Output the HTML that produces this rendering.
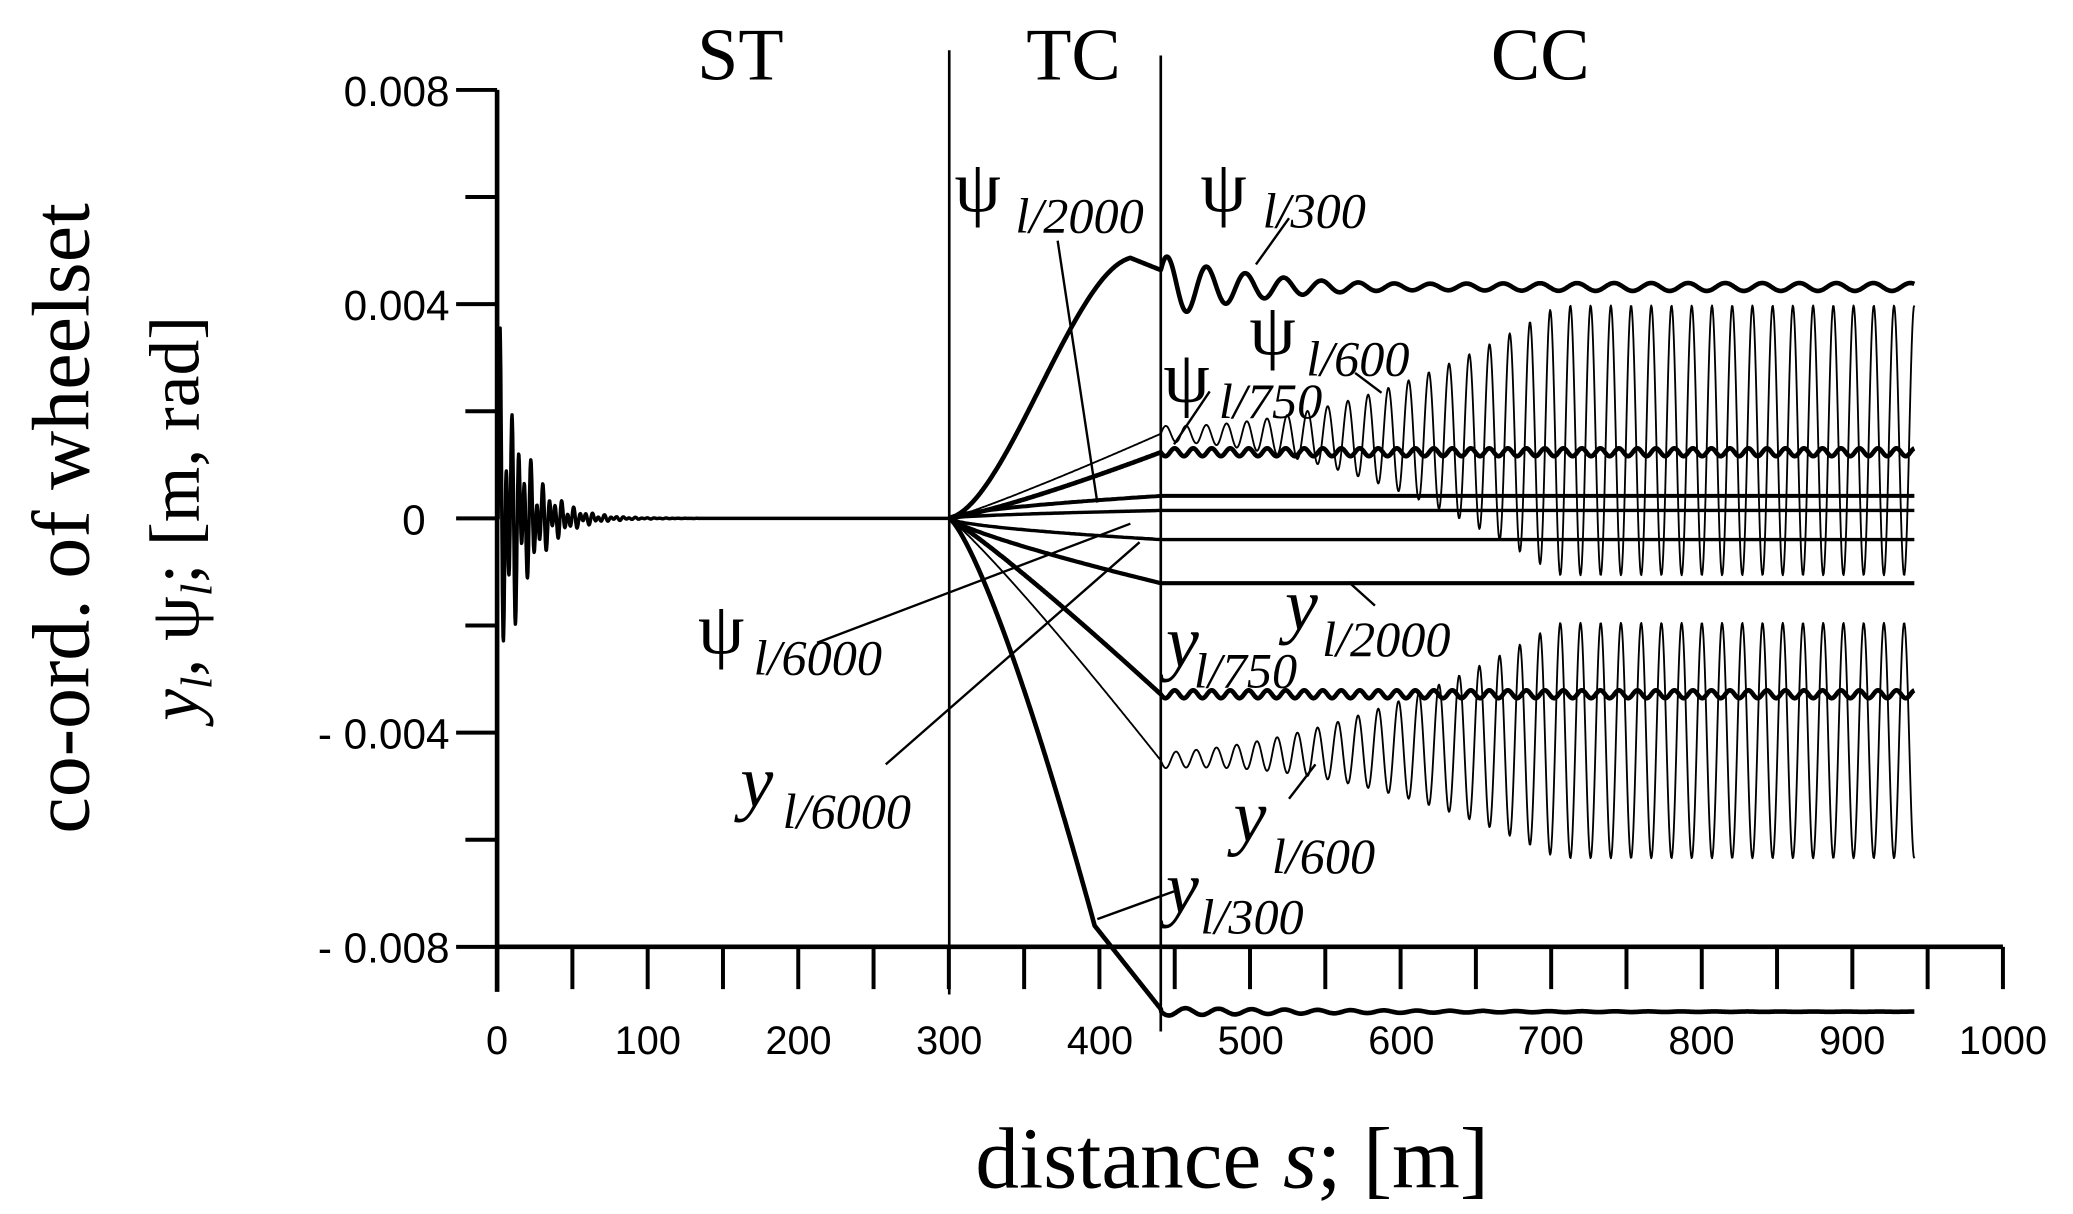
<!DOCTYPE html>
<html><head><meta charset="utf-8"><style>
html,body{margin:0;padding:0;background:#fff;}
svg{display:block;}
.t{font-family:"Liberation Serif",serif;}
.s{font-family:"Liberation Sans",sans-serif;}
</style></head><body>
<svg id="c" width="2073" height="1214" viewBox="0 0 1568 918" preserveAspectRatio="none" xmlns="http://www.w3.org/2000/svg">
<g stroke="#000" fill="none">
<line x1="376" y1="68" x2="376" y2="750" stroke-width="3.5"/>
<line x1="376" y1="716" x2="1515" y2="716" stroke-width="3.5"/>
<line x1="718" y1="38" x2="718" y2="752" stroke-width="2"/>
<line x1="878" y1="42" x2="878" y2="780" stroke-width="2"/>
<g id="ticks" stroke-width="3"></g>
<g id="curves"></g>
<g stroke-width="1.8">
<line x1="830" y1="380" x2="800" y2="182"/>
<line x1="915" y1="296" x2="888" y2="336"/>
<line x1="950" y1="200" x2="975" y2="165"/>
<line x1="1045" y1="297" x2="1025" y2="282"/>
<line x1="618" y1="486" x2="855" y2="396"/>
<line x1="670" y1="578" x2="862" y2="410"/>
<line x1="1020" y1="440" x2="1040" y2="458"/>
<line x1="975" y1="604" x2="995" y2="578"/>
<line x1="830" y1="695" x2="888" y2="674"/>
</g>
</g>
<g class="s" font-size="32" text-anchor="end" fill="#000">
<text x="340" y="80">0.008</text>
<text x="340" y="242">0.004</text>
<text x="322" y="404">0</text>
<text x="340" y="566">- 0.004</text>
<text x="340" y="728">- 0.008</text>
</g>
<g class="s" font-size="30" text-anchor="middle" fill="#000">
<text x="376" y="797">0</text><text x="490" y="797">100</text><text x="604" y="797">200</text>
<text x="718" y="797">300</text><text x="832" y="797">400</text><text x="946" y="797">500</text>
<text x="1060" y="797">600</text><text x="1173" y="797">700</text><text x="1287" y="797">800</text>
<text x="1401" y="797">900</text><text x="1515" y="797">1000</text>
</g>
<g class="t" fill="#000">
<text x="560" y="60" font-size="56" text-anchor="middle">ST</text>
<text x="812" y="60" font-size="56" text-anchor="middle">TC</text>
<text x="1165" y="60" font-size="56" text-anchor="middle">CC</text>
<text x="932" y="898" font-size="66" text-anchor="middle">distance <tspan font-style="italic">s</tspan>; [m]</text>
<text transform="translate(67,392) rotate(-90)" font-size="62" text-anchor="middle">co-ord. of wheelset</text>
<text transform="translate(150,392) rotate(-90)" font-size="54" text-anchor="middle"><tspan font-style="italic">y</tspan><tspan font-style="italic" font-size="34" dy="10">l</tspan><tspan dy="-10">, ψ</tspan><tspan font-style="italic" font-size="34" dy="10">l</tspan><tspan dy="-10">; [m, rad]</tspan></text>
<text x="722" y="160" font-size="56">ψ</text><text x="768" y="176" font-size="38" font-style="italic">l/2000</text>
<text x="908" y="160" font-size="56">ψ</text><text x="955" y="172" font-size="38" font-style="italic">l/300</text>
<text x="945" y="268" font-size="56">ψ</text><text x="988" y="284" font-size="38" font-style="italic">l/600</text>
<text x="880" y="304" font-size="56">ψ</text><text x="922" y="316" font-size="38" font-style="italic">l/750</text>
<text x="528" y="494" font-size="56">ψ</text><text x="570" y="510" font-size="38" font-style="italic">l/6000</text>
<text x="972" y="476" font-size="56" font-style="italic">y</text><text x="1000" y="496" font-size="38" font-style="italic">l/2000</text>
<text x="882" y="504" font-size="56" font-style="italic">y</text><text x="903" y="520" font-size="38" font-style="italic">l/750</text>
<text x="560" y="610" font-size="56" font-style="italic">y</text><text x="592" y="626" font-size="38" font-style="italic">l/6000</text>
<text x="933" y="636" font-size="56" font-style="italic">y</text><text x="962" y="660" font-size="38" font-style="italic">l/600</text>
<text x="882" y="690" font-size="56" font-style="italic">y</text><text x="908" y="706" font-size="38" font-style="italic">l/300</text>
</g>
</svg>
<script>
(function(){
var NS="http://www.w3.org/2000/svg";
var tk=document.getElementById('ticks'),cv=document.getElementById('curves');
function el(n,a,p){var e=document.createElementNS(NS,n);for(var k in a)e.setAttribute(k,a[k]);p.appendChild(e);}
[68,149,230,311,392,473,554,635,716].forEach(function(y,i){el('line',{x1:(i%2?352:345),y1:y,x2:376,y2:y},tk);});
for(var m=0;m<=1000;m+=50){var x=376+m*1.139;el('line',{x1:x,y1:716,x2:x,y2:748},tk);}
function path(f,x0,x1,w,st){var d='';for(var x=x0;x<=x1;x+=st||0.5){d+=(d?'L':'M')+x.toFixed(1)+' '+f(x).toFixed(1);}el('path',{d:d,'stroke-width':w,'stroke-linejoin':'round'},cv);}
// early damped oscillation
path(function(x){if(x<377)return 392;var t=x-377;return 392+(-140)*Math.exp(-t/20)*(Math.sin(t*1.35)*0.7+Math.sin(t*0.8+0.5)*0.4);},376,718,2.6,0.25);
function tc(target,p){return function(x){var u=(x-718)/160;return 392+(target-392)*Math.pow(u,p);};}
// psi300
path(function(x){if(x<=878){var u=(x-718)/137;if(x<855)return 392-197*(0.5-0.5*Math.cos(Math.PI*Math.min(u,1)))-6*Math.sin(Math.PI*Math.min(u,1)*2);return 195+(x-855)*0.4;}var t=x-878;return 217-22*Math.exp(-t/60)*Math.sin(t*2*Math.PI/30+0.6)-3*Math.sin(t*2*Math.PI/28);},718,1448,3.5);
// y300
path(function(x){if(x<=828){var u=(x-718)/110;return 392+308*Math.pow(u,1.3);}if(x<=878){return 700+(x-828)*1.26;}var t=x-878;return 765+3*Math.exp(-t/150)*Math.sin(t*2*Math.PI/25);},718,1448,3.5);
// psi750 / y750 thick
path(function(x){return x<=878?tc(342,1.2)(x):342+3*Math.sin((x-878)*2*Math.PI/14);},718,1448,3.5);
path(function(x){return x<=878?tc(525,1.1)(x):525+3*Math.sin((x-878)*2*Math.PI/14);},718,1448,3.5);
// flat ones
path(function(x){return x<=878?392-17*Math.pow((x-718)/160,0.6):375;},718,1448,3,2);
path(function(x){return x<=878?392-6*Math.pow((x-718)/160,0.6):386;},718,1448,2.6,2);
path(function(x){return x<=878?392+16*Math.pow((x-718)/160,0.6):408;},718,1448,2.6,2);
path(function(x){return x<=878?392+49*Math.pow((x-718)/160,0.8):441;},718,1448,3.2,2);
// psi600 / y600 thin growing oscillations
function grow(x){var t=x-878;return Math.min(1,t*t/(300*300));}
path(function(x){if(x<=878)return 392-64*Math.pow((x-718)/160,1.1);var t=x-878;var c=328+5*Math.min(1,t/300);var a=6+96*grow(x);return c-a*Math.sin(t*2*Math.PI/15.3);},718,1448,1.4,0.5);
path(function(x){if(x<=878)return 392+183*Math.pow((x-718)/160,1.1);var t=x-878;var c=575-15*Math.min(1,t/300);var a=6+83*grow(x);return c+a*Math.sin(t*2*Math.PI/15.3);},718,1448,1.4,0.5);
})();
</script>
</body></html>
